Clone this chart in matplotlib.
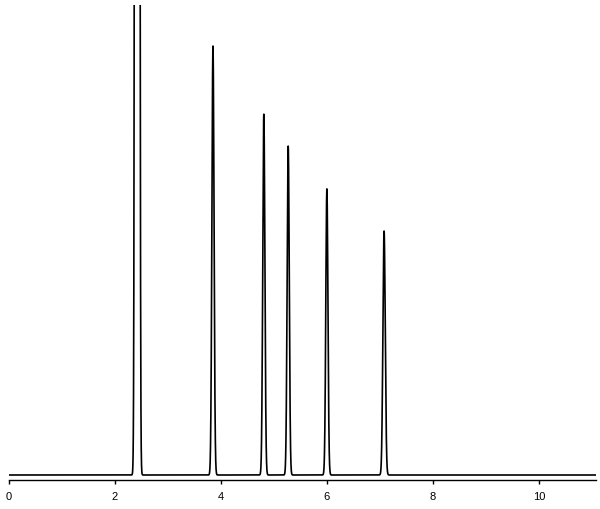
import numpy as np
import matplotlib
matplotlib.use("Agg")
import matplotlib.pyplot as plt

# Peak table (retention time in min, relative height, width sigma)
peak_times = [2.42, 3.85, 4.81, 5.27, 6.00, 7.08]
peak_heights = [40.0, 0.913, 0.768, 0.70, 0.609, 0.519]
peak_sigmas = [0.021, 0.02, 0.02, 0.02, 0.02, 0.022]
tick_values = [0, 2, 4, 6, 8, 10]

t = np.linspace(0, 11.08, 8000)
signal = np.zeros_like(t)
for rt, h, s in zip(peak_times, peak_heights, peak_sigmas):
    signal += h * np.exp(-0.5 * ((t - rt) / s) ** 2)

fig = plt.figure(figsize=(6.0, 5.09), dpi=100)
ax = fig.add_axes([9 / 600, 1 - 480 / 509, 587 / 600, 475 / 509])
ax.plot(t, signal, color="black", lw=1.2)

ax.set_xlim(0, 11.08)
ax.set_ylim(-5 / 470, 1.0)
ax.set_xticks(tick_values)
ax.set_xticklabels([str(v) for v in tick_values], fontsize=8, family="Liberation Sans")
ax.tick_params(axis="x", direction="out", length=3, width=1, pad=6)
ax.set_yticks([])
for side in ["left", "top", "right"]:
    ax.spines[side].set_visible(False)
ax.spines["bottom"].set_linewidth(1.0)

fig.savefig("out.png", dpi=100)
